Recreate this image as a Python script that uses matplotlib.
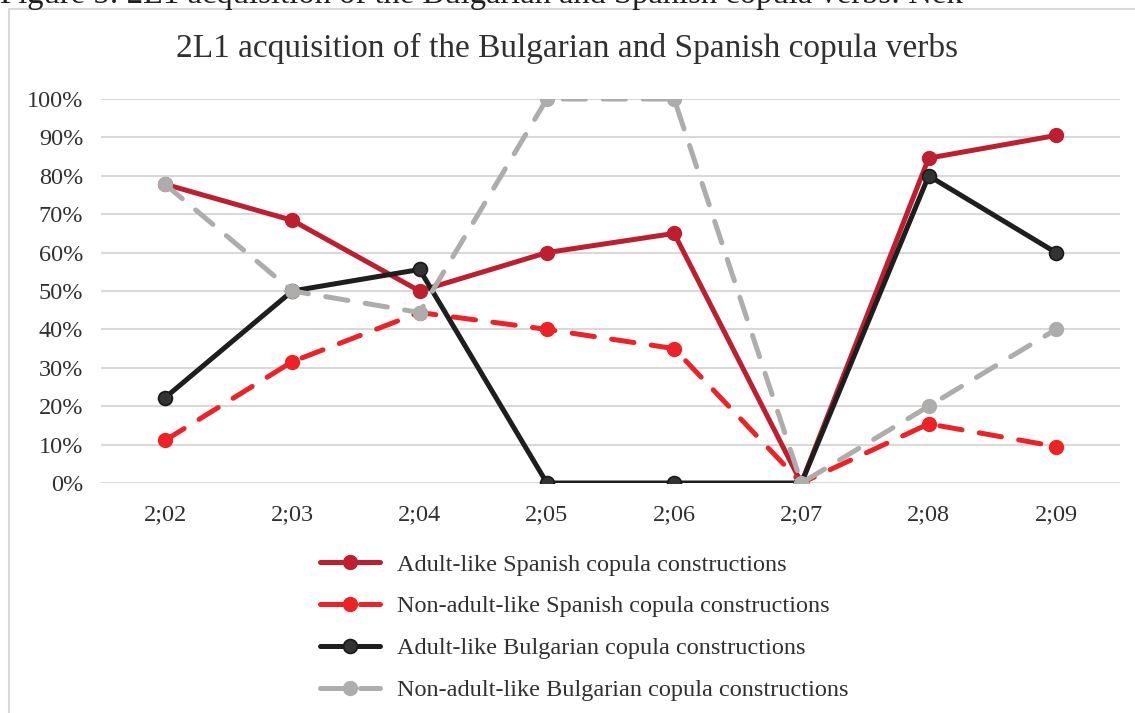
import matplotlib
matplotlib.use("Agg")
import matplotlib.pyplot as plt
from matplotlib.patches import Rectangle

ages = ["2;02", "2;03", "2;04", "2;05", "2;06", "2;07", "2;08", "2;09"]
adult_spanish = [77.8, 68.4, 50.0, 60.0, 65.0, 0.0, 84.6, 90.5]
nonadult_spanish = [11.1, 31.6, 44.4, 40.0, 35.0, 0.0, 15.4, 9.5]
adult_bulgarian = [22.2, 50.0, 55.6, 0.0, 0.0, 0.0, 80.0, 60.0]
nonadult_bulgarian = [77.8, 50.0, 44.4, 100.0, 100.0, 0.0, 20.0, 40.0]
labels = ["Adult-like Spanish copula constructions",
          "Non-adult-like Spanish copula constructions",
          "Adult-like Bulgarian copula constructions",
          "Non-adult-like Bulgarian copula constructions"]
title = "2L1 acquisition of the Bulgarian and Spanish copula verbs"
caption = "Figure 5: 2L1 acquisition of the Bulgarian and Spanish copula verbs: Nek"

plt.rcParams['font.family'] = ['Liberation Serif', 'DejaVu Serif']
txt = '#303030'

W, H = 1135, 713
fig = plt.figure(figsize=(W/100, H/100), dpi=100)

# chart border
fig.patches.append(Rectangle((9/W, -0.1), 1.2, (H-8.5)/H + 0.1, transform=fig.transFigure,
                             fill=False, edgecolor='#d9d9d9', lw=1.5))
fig.text(0, (H-2.5)/H, caption, fontsize=23.5, color='#202020', va='baseline', ha='left')

ax = fig.add_axes([101.4/W, (H-483)/H, (1119.6-101.4)/W, (483-99)/H])
x = list(range(len(ages)))
lw = 3.6
ax.plot(x, adult_spanish, color='#BE1E2D', lw=lw, marker='o', ms=10,
        mfc='#BE1E2D', mec='#BE1E2D', label=labels[0], zorder=3, solid_capstyle='round')
ax.plot(x, nonadult_spanish, color='#EE2226', lw=lw, ls=(0, (4.5, 3.5)), marker='o', ms=10,
        mfc='#EE2226', mec='#EE2226', label=labels[1], zorder=3, dash_capstyle='round')
ax.plot(x, adult_bulgarian, color='#1e1e1e', lw=lw, marker='o', ms=10,
        mfc='#333333', mec='#1a1a1a', mew=1.2, label=labels[2], zorder=3, solid_capstyle='round')
ax.plot(x, nonadult_bulgarian, color='#AFACAC', lw=lw, ls=(0, (4.5, 3.5)), marker='o', ms=10,
        mfc='#AFACAC', mec='#AFACAC', label=labels[3], zorder=3, dash_capstyle='round')

ax.set_xlim(-0.5, len(ages) - 0.5)
ax.set_ylim(0, 100)
ax.set_yticks(range(0, 101, 10))
ax.set_yticklabels([f"{v}%" for v in range(0, 101, 10)])
ax.set_xticks(x)
ax.set_xticklabels(ages)
ax.tick_params(axis='both', length=0, labelsize=17.5, colors=txt)
ax.tick_params(axis='y', pad=13)
ax.tick_params(axis='x', pad=15)
ax.grid(axis='y', color='#d9d9d9', lw=1.5, zorder=0)
ax.set_axisbelow(True)
for s in ax.spines.values():
    s.set_visible(False)

fig.text(567/W, (H-48)/H, title, fontsize=24, color=txt, ha='center', va='center')

leg = fig.legend(loc='upper left', bbox_to_anchor=(320/W, (H-553.5)/H), frameon=False,
                 fontsize=17.5, handlelength=2.45, handletextpad=0.72, labelspacing=0.82,
                 borderpad=0, borderaxespad=0)
for t in leg.get_texts():
    t.set_color(txt)

fig.savefig("out.png", dpi=100)
